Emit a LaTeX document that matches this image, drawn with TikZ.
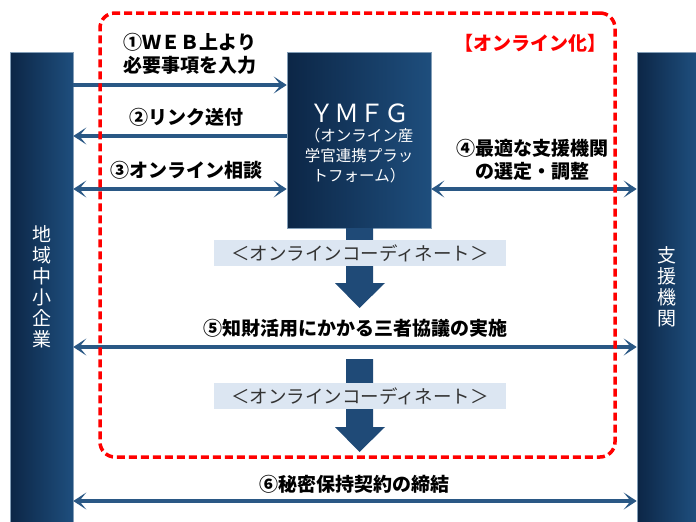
\documentclass[tikz,border=0pt]{standalone}
\usepackage{fontspec}
\setmainfont{Noto Sans CJK JP}
\usetikzlibrary{arrows.meta}
\definecolor{bardark}{HTML}{0C2646}
\definecolor{barlight}{HTML}{1E4E7D}
\definecolor{linkblue}{HTML}{2A5885}
\definecolor{flowblue}{HTML}{1F4A77}
\definecolor{coordfill}{HTML}{DCE6F2}
\definecolor{coordtext}{HTML}{333333}

\begin{document}
\begin{tikzpicture}[x=1pt,y=-1pt,>={Stealth[length=13pt,width=17pt,inset=7pt]}]
\tikzstyle{bar}=[left color=bardark, right color=barlight, draw=barlight!55!white, line width=0.6pt, text=white, align=center, inner sep=0pt, font=\fontsize{19}{21}\selectfont]
\tikzstyle{coordbox}=[fill=coordfill, text=coordtext, minimum width=292pt, minimum height=26pt, inner sep=0pt, font=\fontsize{18.5}{20}\selectfont]
\tikzstyle{link}=[draw=linkblue, line width=3.5pt]
\tikzstyle{flow}=[fill=flowblue]
\tikzstyle{lab}=[align=center, inner sep=0pt, font=\bfseries\fontsize{19}{23}\selectfont]
\tikzstyle{online}=[draw=red, line width=3.5pt, dash pattern=on 8pt off 4pt, rounded corners=15pt, minimum width=515pt, minimum height=444pt]

\useasboundingbox (0,0) rectangle (696,522);

% the two parties and the platform
\node[bar, minimum width=63pt, minimum height=470pt] (sme) at (41.5,287) {地\\域\\中\\小\\企\\業};
\node[bar, minimum width=59pt, minimum height=470pt] (sup) at (666.5,287) {支\\援\\機\\関};
\node[bar, minimum width=144pt, minimum height=176pt] (ymfg) at (359,140) {};
\node[text=white, inner sep=0pt, font=\fontsize{25}{27}\selectfont] (ymfgT) at (359,113) {ＹＭＦＧ};
\node[text=white, align=center, inner sep=0pt, font=\fontsize{15.5}{20}\selectfont] (ymfgS) at (359,156) {（オンライン産\\学官連携プラッ\\トフォーム）};

% coordination flow
\foreach \t/\b in {228/308, 359/452}{
\fill[flow] (346,\t) -- (373,\t) -- (373,\b-25) -- (385,\b-25) -- (359.5,\b) -- (335,\b-25) -- (346,\b-25) -- cycle;}
\node[coordbox] (coordA) at (360,253) {＜オンラインコーディネート＞};
\node[coordbox] (coordB) at (360,396) {＜オンラインコーディネート＞};

% exchanges
\foreach \s/\e/\y in {sme.east/ymfg.west/85, ymfg.west/sme.east/136}{\draw[link,->] (\s |- 0,\y) -- (\e |- 0,\y);}
\foreach \s/\e/\y in {sme.east/ymfg.west/189, ymfg.east/sup.west/189, sme.east/sup.west/347, sme.east/sup.west/501}{\draw[link,<->] (\s |- 0,\y) -- (\e |- 0,\y);}

\node[lab] (l1) at (190,54) {①ＷＥＢ上より\\必要事項を入力};
\node[lab] (l2) at (186,117) {②リンク送付};
\node[lab] (l3) at (186,170) {③オンライン相談};
\node[lab] (l4) at (532,160) {④最適な支援機関\\の選定・調整};
\node[lab] (l5) at (355,328) {⑤知財活用にかかる三者協議の実施};
\node[lab] (l6) at (354,484) {⑥秘密保持契約の締結};

% online zone
\node[online] (zone) at (357.5,235) {};
\node[lab, text=red] (zoneT) at (530,43) {【オンライン化】};
\end{tikzpicture}
\end{document}
